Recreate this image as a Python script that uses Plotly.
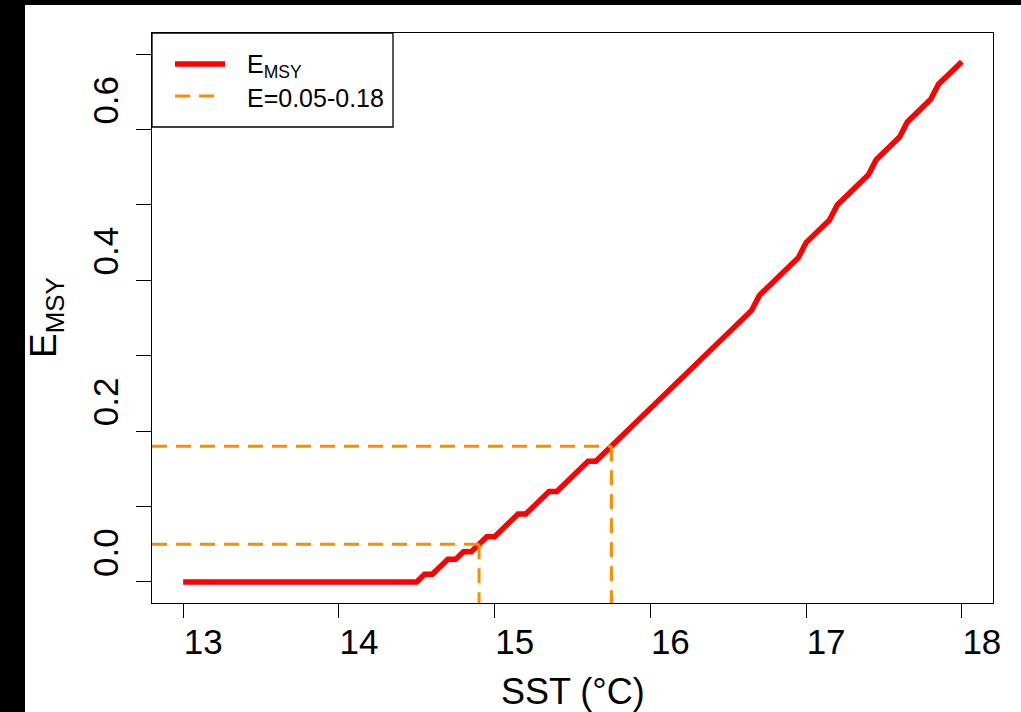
import plotly.graph_objects as go

# Exploitation rate at MSY across sea surface temperature
SST = [
    13.00, 13.05, 13.10, 13.15, 13.20, 13.25, 13.30, 13.35, 13.40, 13.45,
    13.50, 13.55, 13.60, 13.65, 13.70, 13.75, 13.80, 13.85, 13.90, 13.95,
    14.00, 14.05, 14.10, 14.15, 14.20, 14.25, 14.30, 14.35, 14.40, 14.45,
    14.50, 14.55, 14.60, 14.65, 14.70, 14.75, 14.80, 14.85, 14.90, 14.95,
    15.00, 15.05, 15.10, 15.15, 15.20, 15.25, 15.30, 15.35, 15.40, 15.45,
    15.50, 15.55, 15.60, 15.65, 15.70, 15.75, 15.80, 15.85, 15.90, 15.95,
    16.00, 16.05, 16.10, 16.15, 16.20, 16.25, 16.30, 16.35, 16.40, 16.45,
    16.50, 16.55, 16.60, 16.65, 16.70, 16.75, 16.80, 16.85, 16.90, 16.95,
    17.00, 17.05, 17.10, 17.15, 17.20, 17.25, 17.30, 17.35, 17.40, 17.45,
    17.50, 17.55, 17.60, 17.65, 17.70, 17.75, 17.80, 17.85, 17.90, 17.95,
    18.00,
]
E_MSY = [
    0.00, 0.00, 0.00, 0.00, 0.00, 0.00, 0.00, 0.00, 0.00, 0.00,
    0.00, 0.00, 0.00, 0.00, 0.00, 0.00, 0.00, 0.00, 0.00, 0.00,
    0.00, 0.00, 0.00, 0.00, 0.00, 0.00, 0.00, 0.00, 0.00, 0.00,
    0.00, 0.01, 0.01, 0.02, 0.03, 0.03, 0.04, 0.04, 0.05, 0.06,
    0.06, 0.07, 0.08, 0.09, 0.09, 0.10, 0.11, 0.12, 0.12, 0.13,
    0.14, 0.15, 0.16, 0.16, 0.17, 0.18, 0.19, 0.20, 0.21, 0.22,
    0.23, 0.24, 0.25, 0.26, 0.27, 0.28, 0.29, 0.30, 0.31, 0.32,
    0.33, 0.34, 0.35, 0.36, 0.38, 0.39, 0.40, 0.41, 0.42, 0.43,
    0.45, 0.46, 0.47, 0.48, 0.50, 0.51, 0.52, 0.53, 0.54, 0.56,
    0.57, 0.58, 0.59, 0.61, 0.62, 0.63, 0.64, 0.66, 0.67, 0.68,
    0.69,
]

# Reference exploitation band and the SST where the curve reaches it
E_LEVELS = [0.05, 0.18]
SST_AT_LEVELS = [14.90, 15.75]

X_TICKS = [13, 14, 15, 16, 17, 18]
X_TICK_TEXT = ["13", "14", "15", "16", "17", "18"]
Y_TICKS = [0.0, 0.2, 0.4, 0.6]
Y_TICK_TEXT = ["0.0", "0.2", "0.4", "0.6"]
Y_MINOR_STEP = 0.1

LEGEND_LABELS = ["E<sub>MSY</sub>", "E=0.05-0.18"]
X_TITLE = "SST (°C)"
Y_TITLE = "E<sub>MSY</sub>"

W, H = 1021, 712
M = dict(l=152, r=28, t=33, b=109)
X_RANGE = [12.8, 18.2]
Y_RANGE = [-0.028, 0.728]

RED = "#FF0000"
ORANGE = "#FF8C00"
FONT = "Liberation Sans, Arial, sans-serif"
DASH = "15px,9px"


def px_x(p):
    return (p - M["l"]) / (W - M["l"] - M["r"])


def px_y(p):
    return (H - M["b"] - p) / (H - M["t"] - M["b"])


fig = go.Figure()

fig.add_trace(go.Scatter(
    x=SST, y=E_MSY, mode="lines",
    line=dict(color=RED, width=5.5),
    showlegend=False, hoverinfo="x+y",
))

for lvl, sst in zip(E_LEVELS, SST_AT_LEVELS):
    fig.add_trace(go.Scatter(
        x=[X_RANGE[0], sst], y=[lvl, lvl], mode="lines",
        line=dict(color=ORANGE, width=3, dash=DASH),
        showlegend=False, hoverinfo="skip",
    ))
    fig.add_trace(go.Scatter(
        x=[sst, sst], y=[lvl, Y_RANGE[0]], mode="lines",
        line=dict(color=ORANGE, width=3, dash=DASH),
        showlegend=False, hoverinfo="skip",
    ))

axis_common = dict(
    showline=True, mirror=True, linecolor="black", linewidth=1.3,
    ticks="outside", tickcolor="black", tickwidth=1.3,
    showgrid=False, zeroline=False,
    tickfont=dict(family=FONT, size=35, color="black"),
)

fig.update_xaxes(
    range=X_RANGE, tickmode="array", tickvals=X_TICKS, ticktext=X_TICK_TEXT,
    ticklen=14, ticklabelshift=20, ticklabelstandoff=-6, **axis_common,
)
fig.update_yaxes(
    range=Y_RANGE, tickmode="array", tickvals=Y_TICKS, ticktext=Y_TICK_TEXT,
    ticklen=15, tickangle=-90, ticklabelshift=-24, ticklabelstandoff=4,
    minor=dict(tick0=0, dtick=Y_MINOR_STEP, ticks="outside", ticklen=15,
               tickwidth=1.3, tickcolor="black", showgrid=False),
    **axis_common,
)

shapes = [
    # dark frame strips along the left and top edges of the page
    dict(type="rect", xref="paper", yref="paper",
         x0=px_x(0), x1=px_x(25), y0=px_y(H), y1=px_y(0),
         fillcolor="black", line=dict(width=0), layer="below"),
    dict(type="rect", xref="paper", yref="paper",
         x0=px_x(0), x1=px_x(W), y0=px_y(5), y1=px_y(0),
         fillcolor="black", line=dict(width=0), layer="below"),
    # legend box and its line samples
    dict(type="rect", xref="paper", yref="paper",
         x0=px_x(152), x1=px_x(393), y0=px_y(127), y1=px_y(33),
         fillcolor="white", line=dict(color="black", width=1.3), layer="above"),
    dict(type="line", xref="paper", yref="paper",
         x0=px_x(175), x1=px_x(225), y0=px_y(64), y1=px_y(64),
         line=dict(color=RED, width=5.5), layer="above"),
    dict(type="line", xref="paper", yref="paper",
         x0=px_x(175), x1=px_x(214), y0=px_y(96), y1=px_y(96),
         line=dict(color=ORANGE, width=3, dash=DASH), layer="above"),
]

annotations = [
    dict(text=LEGEND_LABELS[0], xref="paper", yref="paper",
         x=px_x(245), y=px_y(66), xanchor="left", yanchor="middle",
         showarrow=False, font=dict(family=FONT, size=25, color="black")),
    dict(text=LEGEND_LABELS[1], xref="paper", yref="paper",
         x=px_x(245), y=px_y(98), xanchor="left", yanchor="middle",
         showarrow=False, font=dict(family=FONT, size=25, color="black")),
    dict(text=X_TITLE, xref="paper", yref="paper",
         x=0.5, y=px_y(691), xanchor="center", yanchor="middle",
         showarrow=False, font=dict(family=FONT, size=36, color="black")),
    dict(text=Y_TITLE, xref="paper", yref="paper",
         x=px_x(46), y=0.5, xanchor="center", yanchor="middle",
         textangle=-90, showarrow=False,
         font=dict(family=FONT, size=37, color="black")),
]

fig.update_layout(
    width=W, height=H, margin=M,
    paper_bgcolor="white", plot_bgcolor="white",
    shapes=shapes, annotations=annotations,
    showlegend=False,
)

fig.write_html("out.html")
